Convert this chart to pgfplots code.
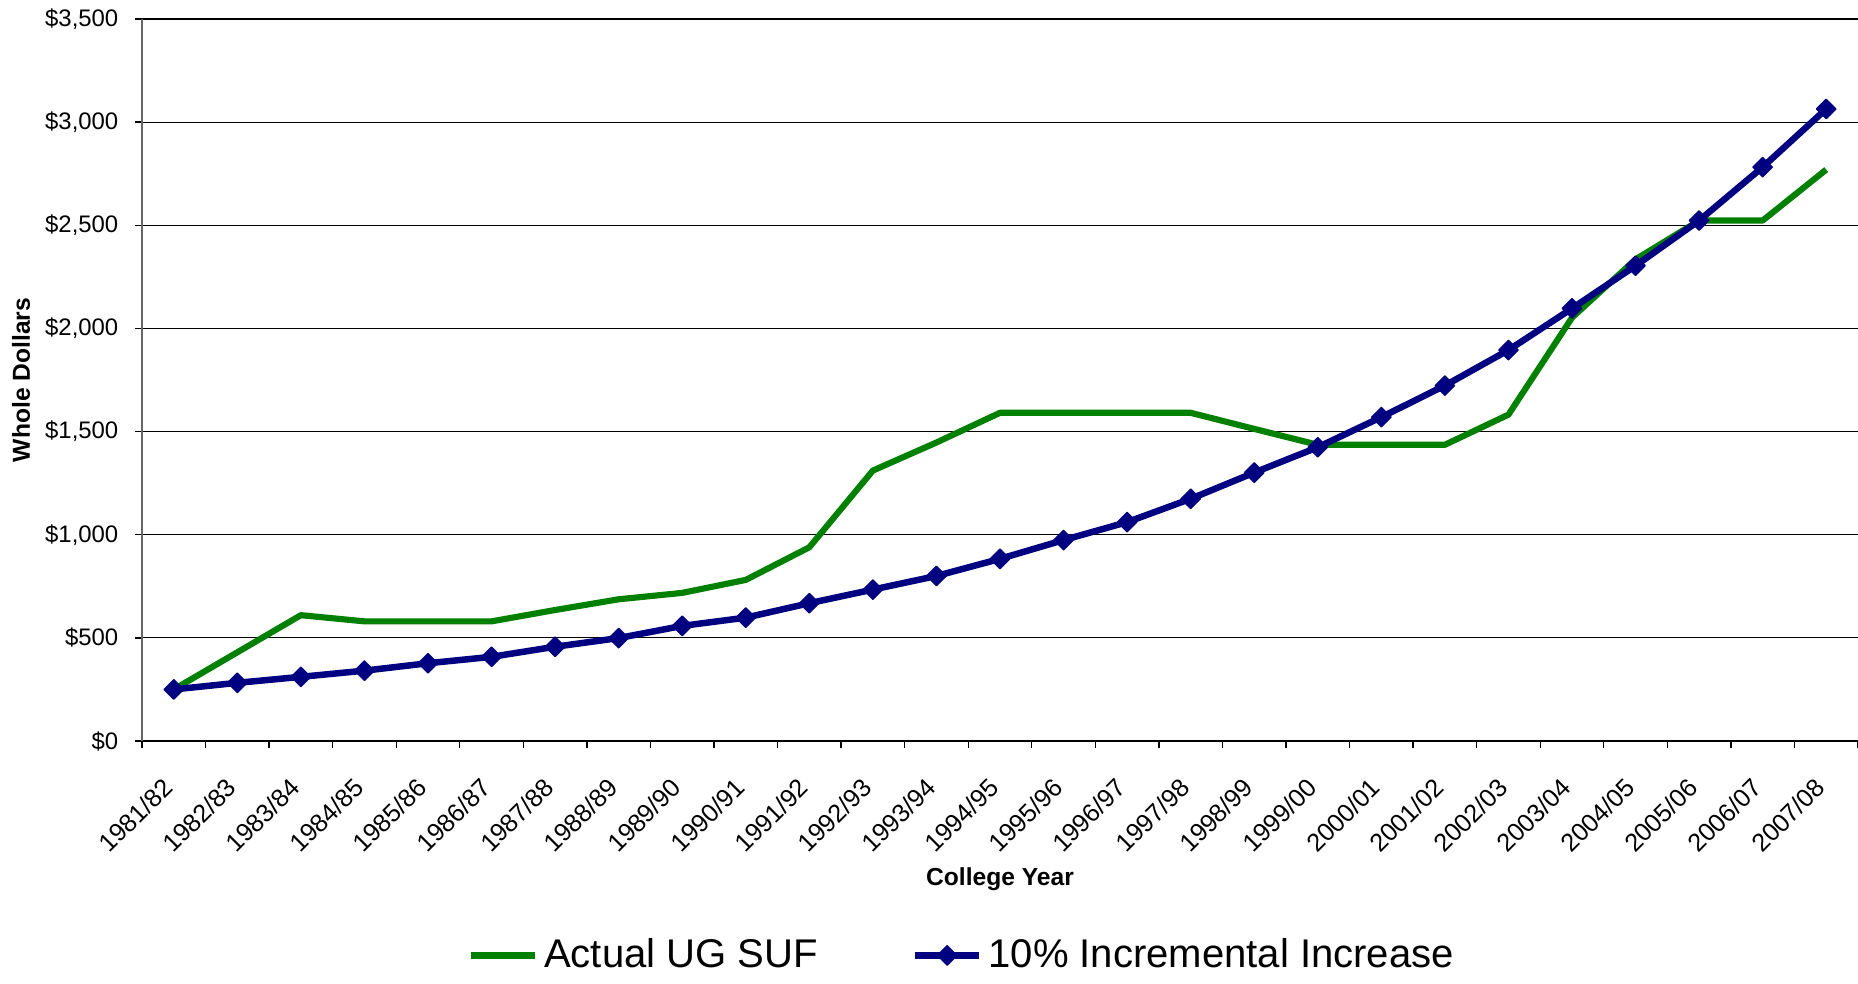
\documentclass[border=0pt]{standalone}
\usepackage{fontspec}
\setmainfont{Liberation Sans}
\usepackage{pgfplots}
\pgfplotsset{compat=1.18}
\definecolor{ugreen}{HTML}{008000}
\definecolor{unavy}{HTML}{000080}
\pgfplotsset{
  greenleg/.style={legend image code/.code={\draw[##1] (0mm,0mm) -- (6.4mm,0mm);}},
  blueleg/.style={legend image code/.code={\draw[##1, mark repeat=2, mark phase=2] plot coordinates {(0mm,0mm) (3.2mm,0mm) (6.4mm,0mm)};}},
}
\begin{document}
\begin{tikzpicture}
\path[use as bounding box] (-14.2mm,-24.3mm) rectangle (171.6mm,74.1mm);
\begin{axis}[
  at={(0,0)}, anchor=south west,
  scale only axis, width=171.6mm, height=72.2mm,
  xmin=-0.5, xmax=26.5, ymin=0, ymax=3500,
  axis x line=bottom, axis y line=left,
  axis line style={-},
  x axis line style={black, line width=0.5pt},
  y axis line style={gray!80!black, line width=0.5pt},
  xtick={0,...,26},
  xticklabels={1981/82,1982/83,1983/84,1984/85,1985/86,1986/87,1987/88,1988/89,1989/90,1990/91,1991/92,1992/93,1993/94,1994/95,1995/96,1996/97,1997/98,1998/99,1999/00,2000/01,2001/02,2002/03,2003/04,2004/05,2005/06,2006/07,2007/08},
  minor xtick={-0.5,0.5,...,26.5},
  ytick={0,500,...,3500},
  minor ytick={0,500,...,3500},
  major tick length=0pt, minor tick length=0.7mm,
  tick align=outside,
  every tick/.style={black, line width=0.4pt},
  ymajorgrids, grid style={black, line width=0.35pt},
  /pgf/number format/1000 sep={,},
  /pgf/number format/assume math mode=true,
  yticklabel={\$\pgfmathprintnumber{\tick}},
  yticklabel style={font=\fontsize{6.8}{8}\selectfont, inner sep=0pt, anchor=east, xshift=-2.3mm},
  xticklabel style={font=\fontsize{7.2}{8}\selectfont, inner sep=0pt, rotate=45, anchor=east, xshift=-3.3mm, yshift=-2.55mm},
  every axis y label/.style={at={(axis description cs:0,0.5)}, xshift=-12.1mm, rotate=90, anchor=center, font=\fontsize{7}{8}\selectfont\bfseries},
  every axis x label/.style={at={(axis description cs:0.5,0)}, yshift=-13.8mm, anchor=center, font=\fontsize{7}{8}\selectfont\bfseries},
  ylabel={Whole Dollars},
  xlabel={College Year},
  legend style={at={(0.479,-0.297)}, anchor=center, draw=none, fill=none,
    font=\fontsize{11.4}{13}\selectfont, legend columns=2,
    /tikz/every even column/.append style={column sep=8.8mm},
    nodes={inner sep=0.6mm},
    inner sep=0pt},
  legend cell align=left,
  clip=false,
]
\addplot[ugreen, line width=1.75pt, no markers, line join=round, greenleg]
  coordinates {(0,250) (1,430) (2,610) (3,580) (4,580) (5,580) (6,635) (7,687) (8,718) (9,781) (10,939) (11,1311) (12,1447) (13,1591) (14,1591) (15,1591) (16,1591) (17,1513) (18,1436) (19,1436) (20,1436) (21,1582) (22,2052) (23,2335) (24,2523) (25,2523) (26,2770)};
\addlegendentry{Actual UG SUF}
\addplot[unavy, line width=1.85pt, line join=round, mark=square*, mark size=1.95pt,
  mark options={rotate=45, fill=unavy, draw=unavy, line width=0.4pt, solid}, blueleg]
  coordinates {(0,250) (1,282) (2,311) (3,341) (4,377) (5,408) (6,457) (7,499) (8,558) (9,598) (10,668) (11,734) (12,800) (13,883) (14,974) (15,1061) (16,1174) (17,1301) (18,1424) (19,1570) (20,1723) (21,1895) (22,2097) (23,2304) (24,2523) (25,2782) (26,3064)};
\addlegendentry{10\% Incremental Increase}
\end{axis}
\end{tikzpicture}
\end{document}
